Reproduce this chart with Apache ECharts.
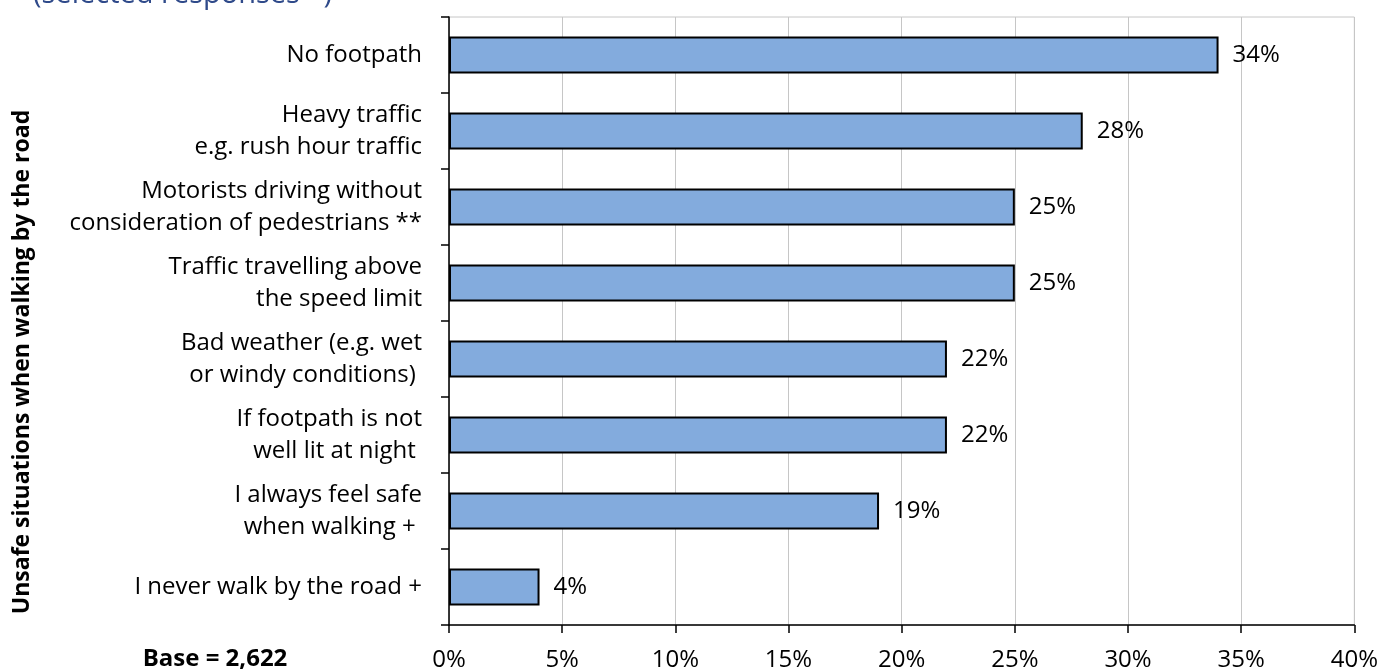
<!DOCTYPE html>
<html>
<head>
<meta charset="utf-8">
<script src="https://cdn.jsdelivr.net/npm/echarts@6/dist/echarts.min.js"></script>
<style>
  html, body { margin: 0; padding: 0; background: #fff; }
  #chart { width: 1381px; height: 672px; }
</style>
</head>
<body>
<div id="chart"></div>
<script>
// Survey responses: unsafe situations when walking by the road
const categories = [
  'No footpath',
  'Heavy traffic\ne.g. rush hour traffic',
  'Motorists driving without\nconsideration of pedestrians **',
  'Traffic travelling above\nthe speed limit',
  'Bad weather (e.g. wet\nor windy conditions) ',
  'If footpath is not\nwell lit at night ',
  'I always feel safe\nwhen walking + ',
  'I never walk by the road +'
];
const percentages = [34, 28, 25, 25, 22, 22, 19, 4];
const xTicks = { min: 0, max: 40, step: 5 };
const subtitleText = '(selected responses *)';
const baseText = 'Base = 2,622';
const axisTitle = 'Unsafe situations when walking by the road';

const FONT = '"Open Sans", "DejaVu Sans", sans-serif';

const chart = echarts.init(document.getElementById('chart'), null, { renderer: 'canvas' });

chart.setOption({
  animation: false,
  textStyle: { fontFamily: FONT },
  grid: {
    left: 449, right: 26, top: 17, bottom: 43,
    show: true, borderColor: '#c6c6c6', borderWidth: 1
  },
  xAxis: {
    type: 'value',
    min: xTicks.min, max: xTicks.max, interval: xTicks.step,
    axisLine: { show: true, lineStyle: { color: '#000', width: 1.5 } },
    axisTick: { show: true, length: 8, lineStyle: { color: '#000', width: 1.5 } },
    axisLabel: { formatter: '{value}%', color: '#000', fontSize: 24, margin: 23, fontFamily: FONT },
    splitLine: { show: true, lineStyle: { color: '#c6c6c6', width: 1 } }
  },
  yAxis: {
    type: 'category',
    inverse: true,
    data: categories,
    axisLine: { show: true, lineStyle: { color: '#000', width: 1.5 } },
    axisTick: { show: true, length: 8, lineStyle: { color: '#000', width: 1.5 } },
    axisLabel: {
      color: '#000', fontSize: 24, lineHeight: 32, margin: 27,
      align: 'right', fontFamily: FONT, padding: [6, 0, 0, 0]
    },
    splitLine: { show: false }
  },
  series: [{
    type: 'bar',
    data: percentages,
    barWidth: '49%',
    itemStyle: { color: '#83abdd', borderColor: '#000', borderWidth: 2 },
    label: {
      show: true, position: 'right', distance: 14,
      formatter: '{c}%', color: '#000', fontSize: 24, fontFamily: FONT
    }
  }],
  graphic: [
    {
      type: 'text', left: 33, top: -20,
      style: { text: subtitleText, fill: '#2f4a8a', font: '29px ' + FONT }
    },
    {
      type: 'text', x: 22, y: 362, rotation: Math.PI / 2,
      style: {
        text: axisTitle, fill: '#000', font: 'bold 23px ' + FONT,
        textAlign: 'center', textVerticalAlign: 'middle'
      }
    },
    {
      type: 'text', x: 215, y: 659,
      style: {
        text: baseText, fill: '#000', font: 'bold 24px ' + FONT,
        textAlign: 'center', textVerticalAlign: 'middle'
      }
    }
  ]
});
</script>
</body>
</html>
